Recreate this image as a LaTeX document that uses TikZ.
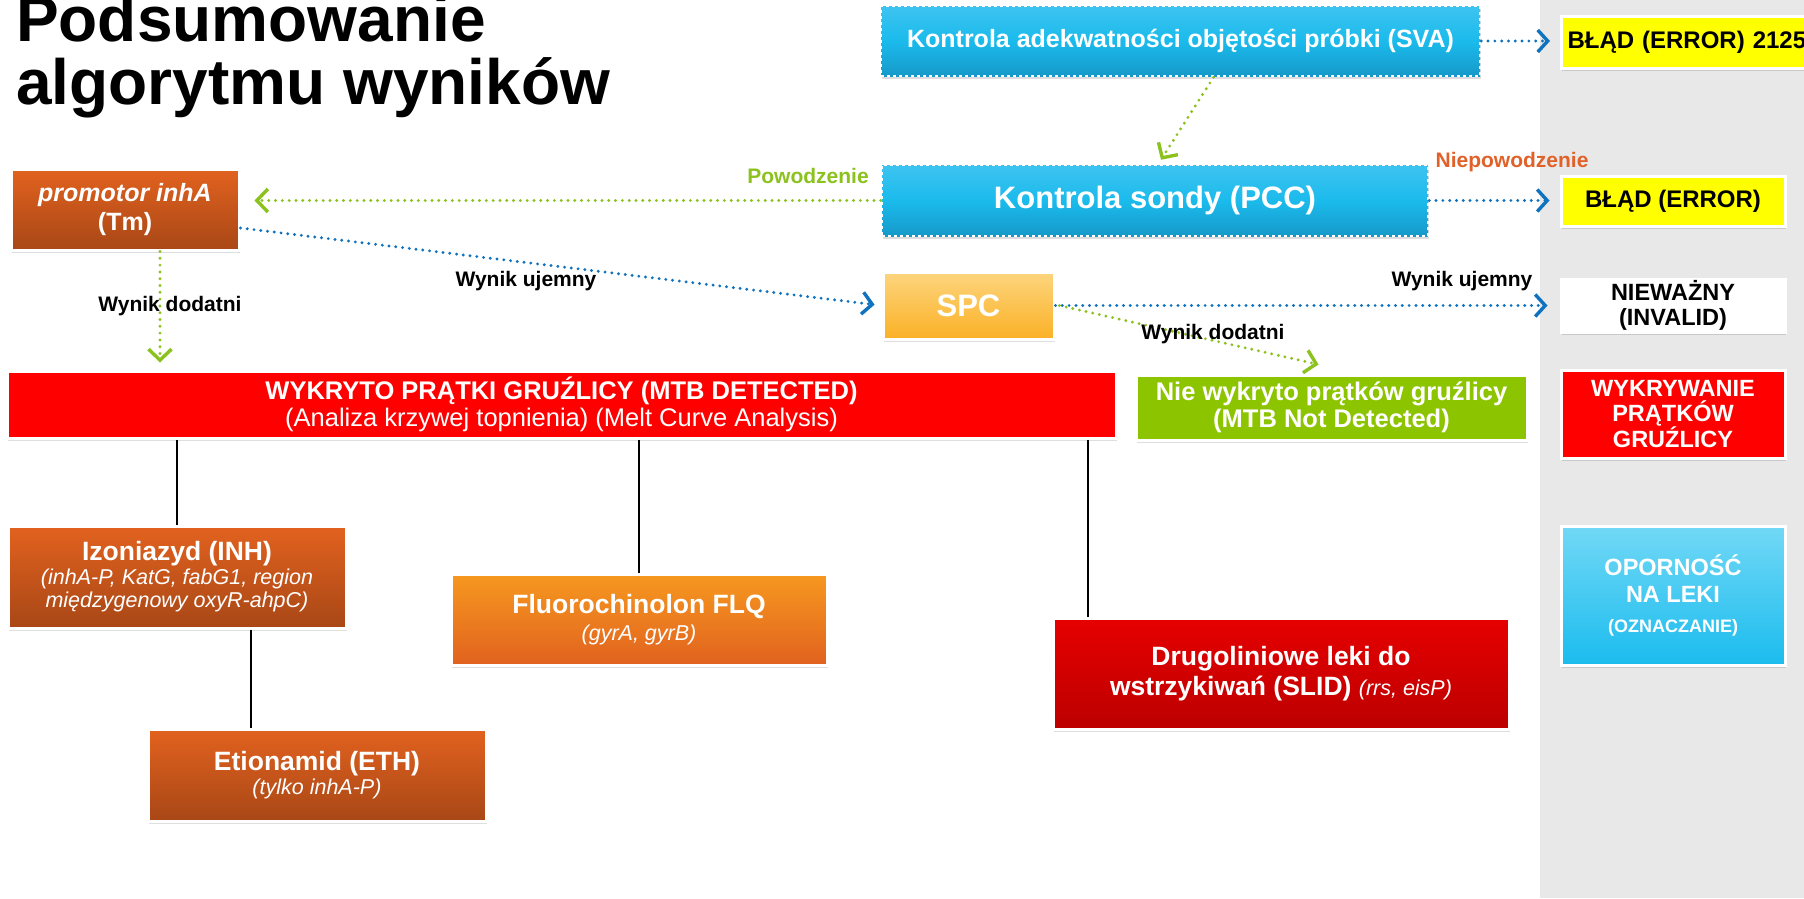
\documentclass[tikz,border=0pt]{standalone}
\usepackage{fontspec}
\setmainfont{Liberation Sans}
\usetikzlibrary{arrows.meta,shadows,calc}
\newcommand{\myfs}[2]{\fontsize{#1}{#2}\selectfont}
\definecolor{panelgray}{HTML}{E8E8E8}
\definecolor{cyanA}{HTML}{3EC3F0}
\definecolor{cyanB}{HTML}{1ABBEC}
\definecolor{cyanC}{HTML}{1699C9}
\definecolor{orA}{HTML}{E2621F}
\definecolor{orB}{HTML}{A84716}
\definecolor{ltorA}{HTML}{F6981F}
\definecolor{ltorB}{HTML}{E1621F}
\definecolor{spcA}{HTML}{FDD57E}
\definecolor{spcB}{HTML}{FBB126}
\definecolor{mtbred}{HTML}{FF0000}
\definecolor{ngreen}{HTML}{8DC400}
\definecolor{opA}{HTML}{72D8F6}
\definecolor{opB}{HTML}{1BBCEE}
\definecolor{slA}{HTML}{E60000}
\definecolor{slB}{HTML}{BC0000}
\definecolor{errY}{HTML}{FFFF00}
\definecolor{lnGreen}{HTML}{8CC21E}
\definecolor{lnBlue}{HTML}{0E72BF}
\definecolor{failOr}{HTML}{E0622A}
\begin{document}
\begin{tikzpicture}[x=1pt,y=-1pt,
  box/.style={rectangle, inner sep=0pt, draw=white, line width=3pt, align=center, text=white,
     drop shadow={shadow xshift=0.5pt, shadow yshift=-3pt, opacity=0.13, fill=black}},
  dashbox/.style={box, dash pattern=on 3pt off 3pt, line width=2.5pt},
  orbox/.style={box, top color=orA, bottom color=orB},
  pnl/.style={box, minimum width=224pt},
  dots/.style={line width=3.2pt, line cap=round, dash pattern=on 0pt off 6.8pt},
  garr/.style={dots, draw=lnGreen, -{Straight Barb[length=11pt,width=23pt,line width=3.4pt]}},
  barr/.style={dots, draw=lnBlue, -{Straight Barb[length=10pt,width=22pt,line width=3.4pt]}},
  lbl/.style={font=\bfseries\myfs{21}{24}, inner sep=0pt},
  blk/.style={draw=black, line width=1.8pt},
  tnode/.style={font=\bfseries\myfs{64}{64}, inner sep=0pt}
]
\useasboundingbox (0,0) rectangle (1804,898);
\fill[white] (0,0) rectangle (1804,898);
\fill[panelgray] (1540,0) rectangle (1804,898);

% title
\node[tnode, anchor=base west] (t1) at (16,41) {Podsumowanie};
\node[tnode, anchor=base west] (t2) at (16,104) {algorytmu wyników};

% controls
\node[dashbox, top color=cyanA, bottom color=cyanC, middle color=cyanB,
      minimum width=599pt, minimum height=70pt, font=\bfseries\myfs{25}{30}]
      (sva) at (1180.5,41) {Kontrola adekwatności objętości próbki (SVA)};
\node[dashbox, top color=cyanA, bottom color=cyanC, middle color=cyanB,
      minimum width=546pt, minimum height=71pt, font=\bfseries\myfs{31}{36}]
      (pcc) at (1155,200.5) {Kontrola sondy (PCC)};
\node[box, top color=spcA, bottom color=spcB, minimum width=171pt, minimum height=67pt,
      font=\bfseries\myfs{31}{36}] (spc) at (968.5,305.5) {SPC};
\node[orbox, minimum width=228pt, minimum height=81pt, font=\bfseries\myfs{25}{29}]
      (prom) at (125,209.5) {\textit{promotor inhA}\\(Tm)};

% right panel
\node[box, fill=errY, text=black, anchor=west, minimum height=52pt, text width=248pt,
      inner xsep=6pt, align=left, font=\bfseries\myfs{24}{28}]
      (err1) at (1560,42) {BŁĄD (ERROR) 2125};
\node[pnl, fill=errY, text=black, minimum height=50pt, font=\bfseries\myfs{24}{28}]
      (err2) at (1673,201) {BŁĄD (ERROR)};
\node[pnl, fill=white, text=black, minimum height=53pt, font=\bfseries\myfs{23.5}{25}]
      (inv) at (1673,305.5) {NIEWAŻNY\\(INVALID)};
\node[pnl, fill=mtbred, minimum height=88pt, font=\bfseries\myfs{23.5}{25}]
      (wyk) at (1673,414) {WYKRYWANIE\\PRĄTKÓW\\GRUŹLICY};
\node[pnl, top color=opA, bottom color=opB, minimum height=139pt, font=\bfseries\myfs{23.5}{27}]
      (opo) at (1673,595.5) {OPORNOŚĆ\\NA LEKI\\[3pt]{\myfs{18}{20}(OZNACZANIE)}};

% results
\node[box, fill=mtbred, minimum width=1109pt, minimum height=67pt, font=\myfs{25.5}{27}]
      (mtb) at (561.5,404.5)
      {\textbf{WYKRYTO PRĄTKI GRUŹLICY (MTB DETECTED)}\\(Analiza krzywej topnienia) (Melt Curve Analysis)};
\node[box, fill=ngreen, minimum width=391pt, minimum height=65pt, font=\bfseries\myfs{25.5}{27}]
      (nw) at (1331.5,407.5) {Nie wykryto prątków gruźlicy\\(MTB Not Detected)};

% drugs
\node[orbox, minimum width=338pt, minimum height=102pt, font=\myfs{21.5}{23.5}]
      (izo) at (177,577)
      {{\bfseries\myfs{26.5}{30}Izoniazyd (INH)}\\\textit{(inhA-P, KatG, fabG1, region}\\\textit{międzygenowy oxyR-ahpC)}};
\node[box, top color=ltorA, bottom color=ltorB, minimum width=376pt, minimum height=91pt,
      font=\myfs{21.5}{27}]
      (flq) at (639,619.5) {{\bfseries\myfs{26.5}{30}Fluorochinolon FLQ}\\\textit{(gyrA, gyrB)}};
\node[orbox, minimum width=338pt, minimum height=92pt, font=\myfs{21.5}{24}]
      (eth) at (317,775) {{\bfseries\myfs{26.5}{30}Etionamid (ETH)}\\\textit{(tylko inhA-P)}};
\node[box, top color=slA, bottom color=slB, minimum width=456pt, minimum height=111pt,
      font=\bfseries\myfs{26.5}{30}]
      (slid) at (1281,673.5)
      {Drugoliniowe leki do\\wstrzykiwań (SLID) {\mdseries\itshape\myfs{21.5}{24}(rrs, eisP)}};

% connectors
\draw[barr, shorten >=10pt] (sva.east) -- (sva.east -| err1.west);
\draw[garr] ([xshift=33pt]sva.south) -- ([xshift=6pt,yshift=4pt]pcc.north);
\draw[barr, shorten >=10pt] (pcc.east) -- (pcc.east -| err2.west);
\draw[garr, shorten >=14pt] (pcc.west) -- (pcc.west -| prom.east);
\draw[barr, shorten >=7pt] ([yshift=-18.5pt]prom.east) -- (spc.west);
\draw[garr, shorten >=7pt] ([xshift=35pt]prom.south) -- ([xshift=35pt]prom.south |- mtb.north);
\draw[barr, shorten >=12pt] (spc.east) -- (spc.east -| inv.west);
\draw[garr] ([xshift=4pt]spc.east) -- ([xshift=-13pt,yshift=9pt]nw.north);

\draw[blk] (mtb.south -| izo.north) -- (izo.north);
\draw[blk] (mtb.south -| flq.north) -- (flq.north);
\draw[blk] ([xshift=36.5pt]slid.north west |- mtb.south) -- ([xshift=36.5pt]slid.north west);
\draw[blk] ([xshift=74pt]izo.south) -- ([xshift=74pt]izo.south |- eth.north);

% labels
\node[lbl, text=lnGreen] (pow) at (808,176) {Powodzenie};
\node[lbl, text=failOr] (niep) at (1512,162) {Niepowodzenie};
\node[lbl] (wu1) at (526,281) {Wynik ujemny};
\node[lbl] (wd1) at (170,306) {Wynik dodatni};
\node[lbl] (wu2) at (1462,281) {Wynik ujemny};
\node[lbl] (wd2) at (1213,334) {Wynik dodatni};
\end{tikzpicture}
\end{document}
